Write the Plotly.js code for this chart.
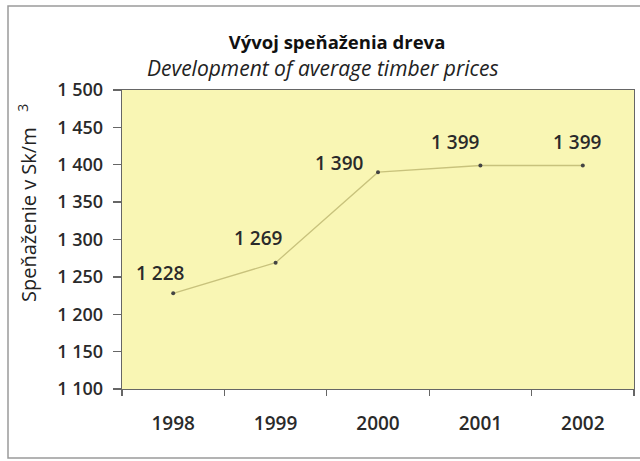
<!DOCTYPE html>
<html>
<head>
<meta charset="utf-8">
<script src="https://cdn.plot.ly/plotly-3.0.1.min.js"></script>
<style>html,body{margin:0;padding:0;background:#fff;}#chart{width:640px;height:461px;}</style>
</head>
<body>
<div id="chart"></div>
<script>
const years = ['1998', '1999', '2000', '2001', '2002'];
const prices = [1228, 1269, 1390, 1399, 1399];
const yTicks = [1100, 1150, 1200, 1250, 1300, 1350, 1400, 1450, 1500];
const titleMain = 'Vývoj speňaženia dreva';
const titleSub = 'Development of average timber prices';
const yTitle = 'Speňaženie v Sk/m';

// label placement offsets (px), style only
const labelDx = [-13, -17, -39, -25, -5];
const labelDy = [20, 25, 9, 24, 24];

function fmt(v) { return String(v).replace(/\B(?=(\d{3})+(?!\d))/g, ' '); }

const FONT = 'Open Sans, Liberation Sans, sans-serif';
const W = 640, H = 461, L = 122, R = 6, T = 90, B = 72;
const pw = W - L - R, ph = H - T - B;
const px = v => (v - L) / pw;
const py = v => (H - B - v) / ph;

const annotations = years.map((y, i) => ({
  x: i, y: prices[i], xref: 'x', yref: 'y', text: fmt(prices[i]), showarrow: false,
  xanchor: 'center', yanchor: 'middle',
  xshift: labelDx[i], yshift: labelDy[i],
  font: {family: FONT, size: 19, weight: 600, color: '#2a2a2a'}
}));
annotations.push({
  xref: 'paper', yref: 'paper', x: px(323), y: py(68), xanchor: 'center', yanchor: 'middle',
  text: '<i>' + titleSub + '</i>',
  showarrow: false, font: {family: FONT, size: 21, color: '#222'}
});
annotations.push({
  xref: 'paper', yref: 'paper', x: px(27), y: py(203), xanchor: 'center', yanchor: 'middle',
  textangle: -90, text: yTitle + '&nbsp;&nbsp;&nbsp;<sup>3</sup>',
  showarrow: false, font: {family: FONT, size: 20, color: '#222'}
});

const data = [{
  type: 'scatter', mode: 'lines+markers', x: years, y: prices,
  line: {color: '#c8c27c', width: 1.3},
  marker: {color: '#444', size: 4},
  hoverinfo: 'skip', cliponaxis: false
}];

const layout = {
  width: W, height: H,
  margin: {l: L, r: R, t: T, b: B},
  paper_bgcolor: '#ffffff', plot_bgcolor: '#f9f6b4',
  showlegend: false,
  title: {text: '<b>' + titleMain + '</b>', x: 337 / W, xref: 'container', xanchor: 'center', y: 1 - 43 / H, yref: 'container', yanchor: 'middle', font: {family: FONT, size: 18.5, color: '#111'}},
  xaxis: {
    type: 'category', categoryarray: years, range: [-0.5, years.length - 0.5],
    showline: true, linecolor: '#666', linewidth: 1.3, mirror: true,
    ticks: 'outside', tickson: 'boundaries', ticklen: 6, tickcolor: '#666', tickwidth: 1.3,
    showgrid: false, zeroline: false, ticklabelstandoff: 17,
    tickfont: {family: FONT, size: 19, weight: 600, color: '#2a2a2a'}
  },
  yaxis: {
    range: [1100, 1500], tickvals: yTicks, ticktext: yTicks.map(fmt),
    showline: true, linecolor: '#666', linewidth: 1.3, mirror: true,
    ticks: 'outside', ticklen: 8, tickcolor: '#666', tickwidth: 1.3,
    showgrid: false, zeroline: false, ticklabelstandoff: 6,
    tickfont: {family: FONT, size: 18, weight: 600, color: '#2a2a2a'}
  },
  annotations: annotations,
  shapes: [{
    type: 'rect', xref: 'paper', yref: 'paper',
    x0: px(8), x1: px(642), y0: py(458), y1: py(6),
    line: {color: '#9a9a9a', width: 1.5}, layer: 'below'
  }]
};

Plotly.newPlot('chart', data, layout, {staticPlot: true, displayModeBar: false});
</script>
</body>
</html>
